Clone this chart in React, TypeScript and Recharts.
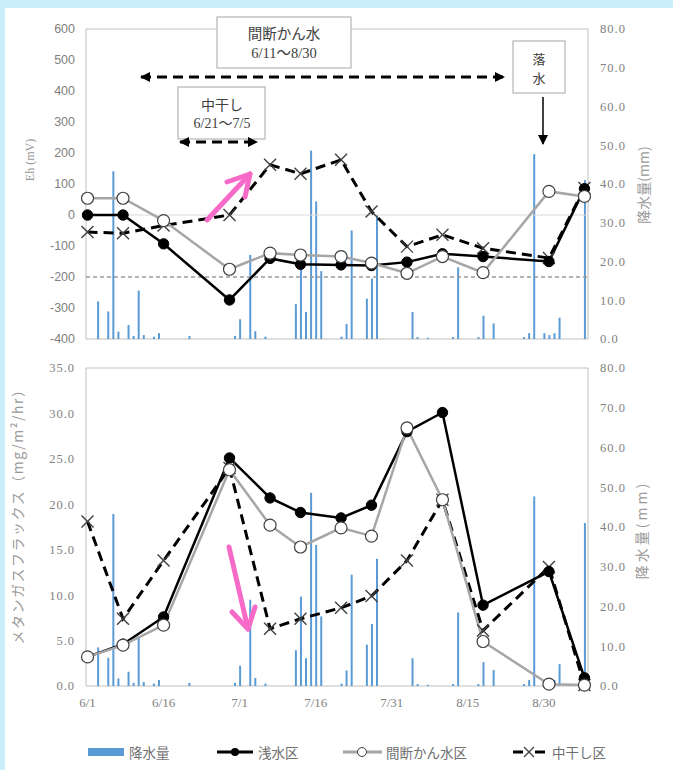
import React from 'react';
import { ComposedChart, Bar, Line, XAxis, YAxis, ReferenceLine, ReferenceArea } from 'recharts';

// ---- data ----
const rainDays = [2, 4, 5, 6, 8, 9, 10, 11, 13, 14, 20, 29, 30, 32, 33, 35, 41, 42, 43, 44, 45, 46, 50, 51, 52, 55, 56, 57, 64, 65, 67, 72, 73, 77, 78, 80, 86, 87, 88, 90, 91, 92, 93, 98];
const rainMm = [9.7, 7.1, 43.3, 1.9, 3.6, 0.8, 12.5, 1.0, 0.6, 1.5, 0.8, 0.8, 5.1, 21.7, 2.0, 0.6, 9.0, 22.5, 7.0, 48.6, 35.5, 17.5, 0.6, 3.9, 28.0, 10.4, 15.6, 32.0, 7.0, 0.5, 0.3, 0.5, 18.5, 0.5, 6.0, 4.0, 0.5, 1.5, 47.7, 1.5, 1.0, 1.5, 5.5, 41.0];

const measureDays = [0, 7, 15, 28, 36, 42, 50, 56, 63, 70, 78, 91, 98];
// Eh (mV)
const ehShallow = [0, 0, -93, -274, -140, -159, -161, -163, -152, -125, -134, -150, 85];
const ehIntermittent = [54, 54, -18, -175, -123, -129, -134, -155, -188, -134, -186, 76, 60];
const ehMidseason = [-55, -59, -34, 0, 162, 133, 178, 11, -102, -64, -107, -139, 87];
// CH4 flux (mg/m2/hr)
const chShallow = [3.2, 4.6, 7.6, 25.1, 20.7, 19.1, 18.5, 19.9, 28.0, 30.1, 8.9, 12.6, 0.9];
const chIntermittent = [3.2, 4.5, 6.7, 23.8, 17.7, 15.3, 17.4, 16.5, 28.4, 20.5, 4.9, 0.2, 0.1];
const chMidseason = [18.1, 7.4, 13.8, 24.0, 6.3, 7.4, 8.6, 9.9, 13.8, 20.5, 6.1, 13.1, 0.1];

const xTickDays = [0, 15, 30, 45, 60, 75, 90];
const xTickLabels = ['6/1', '6/16', '7/1', '7/16', '7/31', '8/15', '8/30'];
const ehTicks = [-400, -300, -200, -100, 0, 100, 200, 300, 400, 500, 600];
const chTicks = [0, 5, 10, 15, 20, 25, 30, 35];
const rainTicks = [0, 10, 20, 30, 40, 50, 60, 70, 80];

const legendNames = ['降水量', '浅水区', '間断かん水区', '中干し区'];

function buildRows() {
  const days = Array.from(new Set([...rainDays, ...measureDays])).sort((a, b) => a - b);
  return days.map((d) => {
    const ri = rainDays.indexOf(d);
    const mi = measureDays.indexOf(d);
    return {
      day: d,
      rain: ri >= 0 ? rainMm[ri] : null,
      ehS: mi >= 0 ? ehShallow[mi] : null,
      ehI: mi >= 0 ? ehIntermittent[mi] : null,
      ehM: mi >= 0 ? ehMidseason[mi] : null,
      chS: mi >= 0 ? chShallow[mi] : null,
      chI: mi >= 0 ? chIntermittent[mi] : null,
      chM: mi >= 0 ? chMidseason[mi] : null,
    };
  });
}

const SERIF = "'Liberation Serif', 'Noto Sans CJK JP', serif";
const SANS = "'Liberation Sans', 'Noto Sans CJK JP', sans-serif";
const CJK = "'Noto Sans CJK JP', 'Liberation Sans', sans-serif";
const XDOMAIN: [number, number] = [-0.3, 98.7];

const empty = (p: any) => <g key={`e-${p.index}`} />;

const filledDot = (p: any) => {
  if (p.cy == null || p.value == null) return empty(p);
  return <circle key={`f-${p.index}`} cx={p.cx} cy={p.cy} r={5.2} fill="#000" stroke="#000" />;
};
const openDot = (p: any) => {
  if (p.cy == null || p.value == null) return empty(p);
  return <circle key={`o-${p.index}`} cx={p.cx} cy={p.cy} r={6} fill="#fff" stroke="#404040" strokeWidth={1.2} />;
};
const crossDot = (p: any) => {
  if (p.cy == null || p.value == null) return empty(p);
  const s = 6;
  return (
    <g key={`x-${p.index}`} stroke="#404040" strokeWidth={1.4}>
      <line x1={p.cx - s} y1={p.cy - s} x2={p.cx + s} y2={p.cy + s} />
      <line x1={p.cx - s} y1={p.cy + s} x2={p.cx + s} y2={p.cy - s} />
    </g>
  );
};

const tickSerif = { fill: '#7f7f7f', fontSize: 12.5, fontFamily: SERIF, letterSpacing: 1 };
const tickSerifX = { fill: '#7f7f7f', fontSize: 13, fontFamily: SERIF };
const tickSans = { fill: '#7f7f7f', fontSize: 12.5, fontFamily: SANS };

export default function App() {
  const data = buildRows();
  const pink = '#f76ac8';
  return (
    <div style={{ position: 'absolute', left: 0, top: 0, width: 673, height: 770, background: '#cbeefb', overflow: 'hidden' }}>
      <div style={{ position: 'absolute', left: 5, top: 8, right: 0, bottom: 0, background: '#ffffff' }} />

      {/* Top panel: Eh */}
      <div style={{ position: 'absolute', left: 0, top: 0 }}>
        <ComposedChart width={673} height={350} data={data} margin={{ top: 29, right: 0, bottom: 11, left: 0 }}>
          <XAxis dataKey="day" type="number" domain={XDOMAIN} hide />
          <YAxis yAxisId="eh" orientation="left" width={86} domain={[-400, 600]} ticks={ehTicks} interval={0}
            axisLine={false} tickLine={false} tickSize={0} tickMargin={11} tick={tickSans} />
          <YAxis yAxisId="rain" orientation="right" width={85} domain={[0, 80]} ticks={rainTicks} interval={0}
            axisLine={false} tickLine={false} tickSize={0} tickMargin={12} tick={tickSerif}
            tickFormatter={(v: number) => v.toFixed(1)} />
          <ReferenceArea yAxisId="eh" x1={XDOMAIN[0]} x2={XDOMAIN[1]} y1={-400} y2={600} fill="none" fillOpacity={0} stroke="#bfbfbf" strokeWidth={1} />
          <ReferenceLine yAxisId="eh" y={0} stroke="#d9d9d9" strokeWidth={1} />
          <ReferenceLine yAxisId="eh" y={-200} stroke="#9a9a9a" strokeWidth={1.3} strokeDasharray="4 3" />
          <Bar yAxisId="rain" dataKey="rain" fill="#5b9bd5" barSize={2} isAnimationActive={false} />
          <Line yAxisId="eh" dataKey="ehM" stroke="#000" strokeWidth={3} strokeDasharray="10 6" connectNulls dot={crossDot} activeDot={false} isAnimationActive={false} />
          <Line yAxisId="eh" dataKey="ehS" stroke="#000" strokeWidth={2.5} connectNulls dot={filledDot} activeDot={false} isAnimationActive={false} />
          <Line yAxisId="eh" dataKey="ehI" stroke="#a6a6a6" strokeWidth={2.5} connectNulls dot={openDot} activeDot={false} isAnimationActive={false} />
        </ComposedChart>
      </div>

      {/* Bottom panel: CH4 flux */}
      <div style={{ position: 'absolute', left: 0, top: 350 }}>
        <ComposedChart width={673} height={420} data={data} margin={{ top: 18, right: 0, bottom: 54, left: 0 }}>
          <XAxis dataKey="day" type="number" domain={XDOMAIN} ticks={xTickDays} interval={0} height={30}
            axisLine={false} tickLine={false} tickSize={0} tickMargin={12} tick={tickSerifX}
            tickFormatter={(v: number) => xTickLabels[xTickDays.indexOf(v)] ?? ''} />
          <YAxis yAxisId="ch" orientation="left" width={86} domain={[0, 35]} ticks={chTicks} interval={0}
            axisLine={false} tickLine={false} tickSize={0} tickMargin={11} tick={tickSerif}
            tickFormatter={(v: number) => v.toFixed(1)} />
          <YAxis yAxisId="rain" orientation="right" width={85} domain={[0, 80]} ticks={rainTicks} interval={0}
            axisLine={false} tickLine={false} tickSize={0} tickMargin={12} tick={tickSerif}
            tickFormatter={(v: number) => v.toFixed(1)} />
          <ReferenceArea yAxisId="ch" x1={XDOMAIN[0]} x2={XDOMAIN[1]} y1={0} y2={35} fill="none" fillOpacity={0} stroke="#bfbfbf" strokeWidth={1} />
          <Bar yAxisId="rain" dataKey="rain" fill="#5b9bd5" barSize={2} isAnimationActive={false} />
          <Line yAxisId="ch" dataKey="chM" stroke="#000" strokeWidth={3} strokeDasharray="10 6" connectNulls dot={crossDot} activeDot={false} isAnimationActive={false} />
          <Line yAxisId="ch" dataKey="chS" stroke="#000" strokeWidth={2.5} connectNulls dot={filledDot} activeDot={false} isAnimationActive={false} />
          <Line yAxisId="ch" dataKey="chI" stroke="#a6a6a6" strokeWidth={2.5} connectNulls dot={openDot} activeDot={false} isAnimationActive={false} />
        </ComposedChart>
      </div>

      {/* Annotations, axis titles, legend */}
      <svg width={673} height={770} style={{ position: 'absolute', left: 0, top: 0, pointerEvents: 'none' }}>
        <defs>
          <marker id="ah" viewBox="0 0 10 10" refX="9" refY="5" markerWidth="10" markerHeight="10" markerUnits="userSpaceOnUse" orient="auto-start-reverse">
            <path d="M0,0 L10,5 L0,10 z" fill="#000" />
          </marker>
        </defs>

        {/* axis titles */}
        <text transform="translate(30,160) rotate(-90)" textAnchor="middle" dominantBaseline="central" fontSize={12} fontFamily={SERIF} fill="#999">Eh (mV)</text>
        <text transform="translate(643,185) rotate(-90)" textAnchor="middle" dominantBaseline="central" fontSize={14} fontFamily={CJK} fill="#999">降水量(mm)</text>
        <text transform="translate(17,513) rotate(-90)" textAnchor="middle" dominantBaseline="central" fontSize={14} fontFamily={CJK} fill="#999" letterSpacing={1.5}>メタンガスフラックス（mg/m²/hr）</text>
        <text transform="translate(641,530) rotate(-90)" textAnchor="middle" dominantBaseline="central" fontSize={14} fontFamily={CJK} fill="#999" letterSpacing={3}>降水量(mm)</text>

        {/* 間断かん水 box + arrow */}
        <rect x={217} y={17} width={134} height={51} fill="#fff" stroke="#a6a6a6" strokeWidth={1} />
        <text x={284} y={34} textAnchor="middle" dominantBaseline="central" fontSize={14.5} fontFamily={SERIF} fill="#404040">間断かん水</text>
        <text x={284} y={53} textAnchor="middle" dominantBaseline="central" fontSize={14.5} fontFamily={SERIF} fill="#404040">6/11〜8/30</text>
        <line x1={141} y1={77} x2={504} y2={77} stroke="#000" strokeWidth={3} strokeDasharray="10 6" markerStart="url(#ah)" markerEnd="url(#ah)" />

        {/* 中干し box + arrow */}
        <rect x={178} y={87} width={87} height={52} fill="#fff" stroke="#a6a6a6" strokeWidth={1} />
        <text x={222} y={105} textAnchor="middle" dominantBaseline="central" fontSize={14} fontFamily={SERIF} fill="#404040">中干し</text>
        <text x={222} y={123} textAnchor="middle" dominantBaseline="central" fontSize={14} fontFamily={SERIF} fill="#404040">6/21〜7/5</text>
        <line x1={180} y1={142} x2={257} y2={142} stroke="#000" strokeWidth={3} strokeDasharray="10 6" markerStart="url(#ah)" markerEnd="url(#ah)" />

        {/* 落水 box + arrow */}
        <rect x={513} y={41} width={52} height={52} fill="#fff" stroke="#a6a6a6" strokeWidth={1} />
        <text x={539} y={58} textAnchor="middle" dominantBaseline="central" fontSize={13} fontFamily={CJK} fill="#404040">落</text>
        <text x={539} y={77} textAnchor="middle" dominantBaseline="central" fontSize={13} fontFamily={CJK} fill="#404040">水</text>
        <line x1={543} y1={97} x2={543} y2={144} stroke="#000" strokeWidth={1.5} markerEnd="url(#ah)" />

        {/* pink arrows */}
        <g stroke={pink} strokeWidth={5} strokeLinecap="round" strokeLinejoin="round" fill="none">
          <line x1={207} y1={220} x2={250} y2={174} />
          <polyline points="227,182 250,174 245,197" />
          <line x1={229} y1={547} x2={248} y2={629} />
          <polyline points="232,612 248,629 255,607" />
        </g>

        {/* legend */}
        <g fontFamily={CJK} fontSize={13.5} fill="#707070">
          <rect x={88} y={748} width={36} height={8} fill="#5b9bd5" />
          <text x={129} y={752} dominantBaseline="central">{legendNames[0]}</text>

          <line x1={217} y1={752} x2={253} y2={752} stroke="#000" strokeWidth={3} />
          <circle cx={235} cy={752} r={4} fill="#000" />
          <text x={258} y={752} dominantBaseline="central">{legendNames[1]}</text>

          <line x1={343} y1={752} x2={382} y2={752} stroke="#a6a6a6" strokeWidth={3} />
          <circle cx={362} cy={752} r={4.5} fill="#fff" stroke="#404040" strokeWidth={1} />
          <text x={386} y={752} dominantBaseline="central">{legendNames[2]}</text>

          <line x1={513} y1={752} x2={523} y2={752} stroke="#000" strokeWidth={3} />
          <line x1={535} y1={752} x2={545} y2={752} stroke="#000" strokeWidth={3} />
          <g stroke="#404040" strokeWidth={1.3}>
            <line x1={524} y1={747} x2={534} y2={757} />
            <line x1={524} y1={757} x2={534} y2={747} />
          </g>
          <text x={552} y={752} dominantBaseline="central">{legendNames[3]}</text>
        </g>
      </svg>
    </div>
  );
}
